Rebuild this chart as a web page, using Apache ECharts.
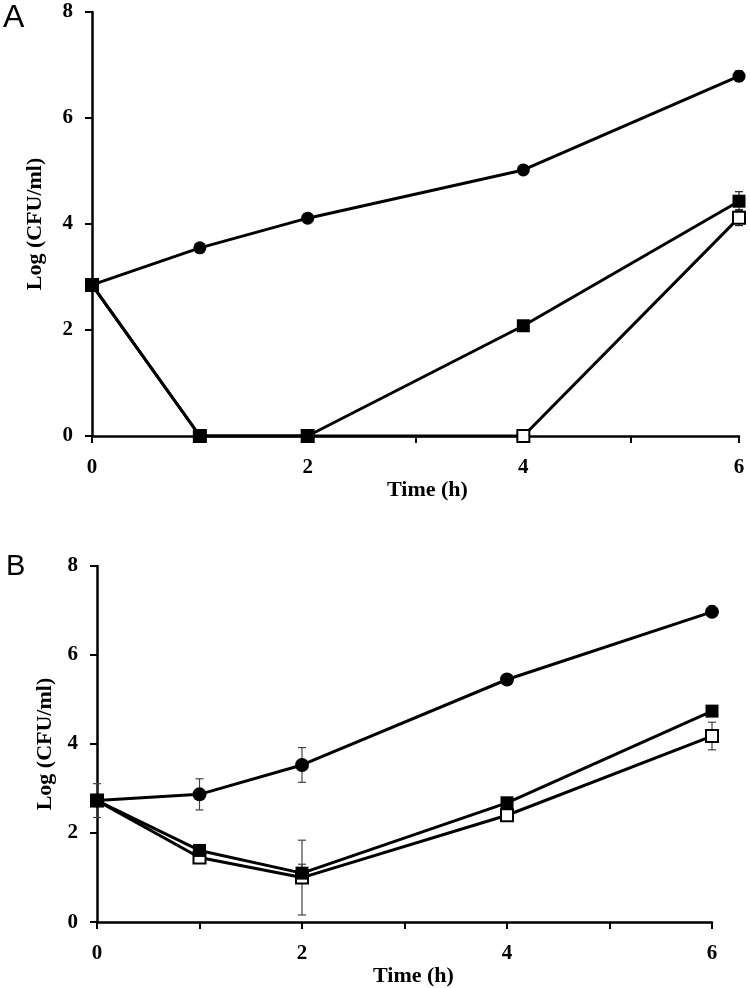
<!DOCTYPE html>
<html>
<head>
<meta charset="utf-8">
<script src="https://cdn.jsdelivr.net/npm/echarts@6/dist/echarts.min.js"></script>
<style>
html,body{margin:0;padding:0;background:#fff;}
#chart{width:750px;height:988px;}
</style>
</head>
<body>
<div id="chart"></div>
<script>
// ---- data ----
const hours = [0, 1, 2, 4, 6];
const xTicks = [0, 2, 4, 6];
const yTicks = [0, 2, 4, 6, 8];

// Panel A
const circlesA = [2.85, 3.55, 4.11, 5.02, 6.79];
const circlesErrA = [0, 0, 0, 0, 0.1];
const filledA = [2.85, 0, 0, 2.08, 4.43];
const filledErrA = [0, 0, 0, 0, 0.18];
const openA = [2.85, 0, 0, 0, 4.12];
const openErrA = [0, 0, 0, 0, 0.15];

// Panel B
const circlesB = [2.73, 2.87, 3.53, 5.45, 6.97];
const circlesErrB = [0.38, 0.35, 0.39, 0, 0];
const filledB = [2.73, 1.61, 1.10, 2.68, 4.74];
const filledErrB = [0, 0, 0.2, 0, 0];
const openB = [2.73, 1.45, 1.0, 2.4, 4.18];
const openErrB = [0, 0, 0.84, 0.12, 0.31];

const yName = 'Log (CFU/ml)';
const xName = 'Time (h)';

// ---- helpers ----
function pairs(ys) { return hours.map((h, i) => [h, ys[i]]); }
function errData(ys, es) {
  const out = [];
  hours.forEach((h, i) => { if (es[i] > 0) out.push([h, ys[i] - es[i], ys[i] + es[i]]); });
  return out;
}
const serif = '"Liberation Serif", "Times New Roman", serif';

function errSeries(idx, ys, es, color, lw) {
  return {
    type: 'custom', xAxisIndex: idx, yAxisIndex: idx, z: 1,
    data: errData(ys, es),
    encode: { x: 0, y: [1, 2] },
    renderItem: function (params, api) {
      const x = api.value(0), lo = api.value(1), hi = api.value(2);
      const a = api.coord([x, hi]), b = api.coord([x, lo]);
      const cw = 4;
      const st = { stroke: color, lineWidth: lw };
      return { type: 'group', children: [
        { type: 'line', shape: { x1: a[0], y1: a[1], x2: b[0], y2: b[1] }, style: st },
        { type: 'line', shape: { x1: a[0] - cw, y1: a[1], x2: a[0] + cw, y2: a[1] }, style: st },
        { type: 'line', shape: { x1: b[0] - cw, y1: b[1], x2: b[0] + cw, y2: b[1] }, style: st }
      ]};
    }
  };
}
function lineSeries(idx, ys, symbol, size, fill, z) {
  return {
    type: 'line', xAxisIndex: idx, yAxisIndex: idx, z: z,
    data: pairs(ys),
    symbol: symbol, symbolSize: size, showSymbol: true,
    lineStyle: { color: '#000', width: 3 },
    itemStyle: { color: fill, borderColor: '#000', borderWidth: fill === '#fff' ? 2 : 0 },
    emphasis: { disabled: true }
  };
}
function xAxis(idx, gapPad) {
  return {
    type: 'value', gridIndex: idx, min: 0, max: 6, interval: 1,
    name: xName, nameLocation: 'middle', nameGap: 39,
    nameTextStyle: { fontFamily: serif, fontWeight: 'bold', fontSize: 22, color: '#000', padding: [0, 0, 0, gapPad] },
    axisLine: { onZero: false, lineStyle: { color: '#000', width: 2.5 } },
    axisTick: { show: true, inside: false, length: 7, lineStyle: { color: '#000', width: 2 } },
    axisLabel: { margin: 21, fontFamily: serif, fontWeight: 'bold', fontSize: 21, color: '#000',
      formatter: v => (xTicks.indexOf(v) >= 0 ? String(v) : '') },
    splitLine: { show: false }
  };
}
function yAxis(idx, nameGap) {
  return {
    type: 'value', gridIndex: idx, min: 0, max: 8, interval: 2,
    name: yName, nameLocation: 'middle', nameGap: nameGap, nameRotate: 90,
    nameTextStyle: { fontFamily: serif, fontWeight: 'bold', fontSize: 22, color: '#000' },
    axisLine: { show: true, lineStyle: { color: '#000', width: 2.5 } },
    axisTick: { show: true, inside: false, length: 7, lineStyle: { color: '#000', width: 2 } },
    axisLabel: { margin: 19, fontFamily: serif, fontWeight: 'bold', fontSize: 21, color: '#000',
      formatter: v => (yTicks.indexOf(v) >= 0 ? String(v) : '') },
    splitLine: { show: false }
  };
}

const chart = echarts.init(document.getElementById('chart'), null, { renderer: 'canvas' });
chart.setOption({
  animation: false,
  backgroundColor: '#fff',
  grid: [
    { left: 92, right: 11, top: 12, bottom: 552, containLabel: false },
    { left: 97, right: 38, top: 566, bottom: 64, containLabel: false }
  ],
  xAxis: [xAxis(0, 24), xAxis(1, 18)],
  yAxis: [yAxis(0, 46), yAxis(1, 41)],
  graphic: [
    { type: 'text', left: 3, top: 2, style: { text: 'A', font: '32px "Liberation Sans", Arial, sans-serif', fill: '#000' } },
    { type: 'text', left: 6, top: 552, style: { text: 'B', font: '29px "Liberation Sans", Arial, sans-serif', fill: '#000' } }
  ],
  series: [
    errSeries(0, circlesA, circlesErrA, '#222', 1.2),
    errSeries(0, filledA, filledErrA, '#222', 1.2),
    errSeries(0, openA, openErrA, '#222', 1.2),
    lineSeries(0, openA, 'rect', 12, '#fff', 3),
    lineSeries(0, circlesA, 'circle', 13, '#000', 4),
    lineSeries(0, filledA, 'rect', 13, '#000', 5),

    errSeries(1, circlesB, circlesErrB, '#444', 1.2),
    errSeries(1, filledB, filledErrB, '#444', 1.2),
    errSeries(1, openB, openErrB, '#444', 1.2),
    lineSeries(1, openB, 'rect', 12, '#fff', 3),
    lineSeries(1, circlesB, 'circle', 14, '#000', 4),
    lineSeries(1, filledB, 'rect', 13, '#000', 5)
  ]
});
</script>
</body>
</html>
